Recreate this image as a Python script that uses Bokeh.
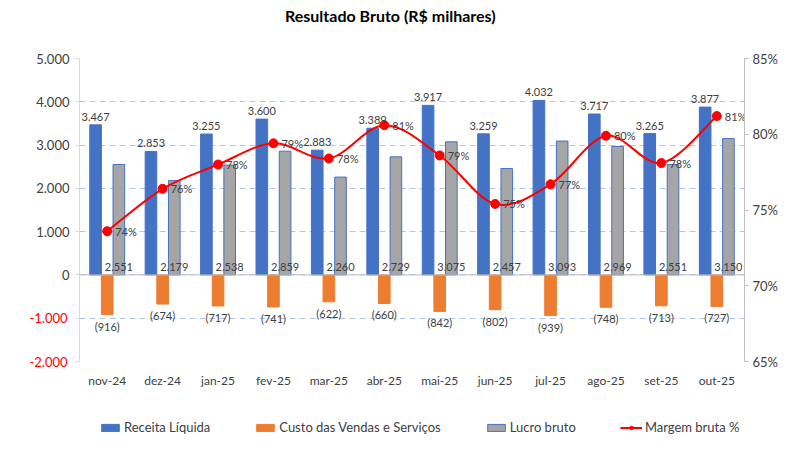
from bokeh.plotting import figure
from bokeh.layouts import column
from bokeh.models import (ColumnDataSource, Range1d, LinearAxis, FixedTicker,
                          Legend, LegendItem, Span, FactorRange, Div)
from bokeh.transform import dodge
from bokeh.core.properties import value
from bokeh.embed import file_html
from bokeh.resources import INLINE

title_text = "Resultado Bruto (R$ milhares)"
months = ["nov-24", "dez-24", "jan-25", "fev-25", "mar-25", "abr-25",
          "mai-25", "jun-25", "jul-25", "ago-25", "set-25", "out-25"]
receita = [3467, 2853, 3255, 3600, 2883, 3389, 3917, 3259, 4032, 3717, 3265, 3877]
custo = [-916, -674, -717, -741, -622, -660, -842, -802, -939, -748, -713, -727]
lucro = [2551, 2179, 2538, 2859, 2260, 2729, 3075, 2457, 3093, 2969, 2551, 3150]
margem = [0.736, 0.764, 0.780, 0.794, 0.784, 0.806, 0.786, 0.754, 0.767, 0.799, 0.781, 0.812]
left_ticks = [-2000, -1000, 0, 1000, 2000, 3000, 4000, 5000]
right_ticks = [0.65, 0.70, 0.75, 0.80, 0.85]
series_names = ["Receita Líquida", "Custo das Vendas e Serviços", "Lucro bruto", "Margem bruta %"]

FONT = "Lato"
TXT = "#404040"
C_REC, C_CUS, C_LUC, C_MAR = "#4472C4", "#ED7D31", "#A5A5A5", "#FF0000"


def thousands(v):
    return f"{v:,}".replace(",", ".")


src = ColumnDataSource(dict(
    month=months, receita=receita, custo=custo, lucro=lucro, margem=margem,
    xc=[i + 0.5 for i in range(len(months))],
    rlab=[thousands(v) for v in receita],
    clab=[f"({abs(v)})" for v in custo],
    llab=[thousands(v) for v in lucro],
    mlab=[f"{int(v * 100 + 0.5)}%" for v in margem],
    zero=[0] * len(months),
))

# title as a text block above the chart
head = Div(text=title_text, width=780, height=30, margin=0,
           styles={"font-family": FONT, "font-size": "16px", "font-weight": "bold",
                   "color": "#000000", "line-height": "32px", "text-indent": "285px",
                   "white-space": "nowrap"})

p = figure(width=780, height=375, x_range=FactorRange(*months, range_padding=0),
           y_range=Range1d(left_ticks[0], left_ticks[-1]),
           output_backend="svg", toolbar_location=None,
           min_border_left=79, min_border_right=28, min_border_top=28, min_border_bottom=44)
p.outline_line_color = None
p.title.visible = False
p.extra_y_ranges = {"pct": Range1d(right_ticks[0], right_ticks[-1])}

# grid
p.xgrid.visible = False
p.ygrid.ticker = FixedTicker(ticks=left_ticks)
p.ygrid.grid_line_color = "#B4C6E7"
p.ygrid.grid_line_dash = "6 4"

# left axis: line, ticks and the non-negative labels (dark)
ya = p.yaxis[0]
ya.ticker = FixedTicker(ticks=left_ticks)
ya.major_label_overrides = {t: (thousands(t) if t >= 0 else "") for t in left_ticks}
ya.axis_line_color = "#D9D9D9"
ya.major_tick_line_color = "#D9D9D9"
ya.major_tick_out = 4
ya.major_tick_in = 0
ya.minor_tick_line_color = None
ya.major_label_text_font = FONT
ya.major_label_text_font_size = "13px"
ya.major_label_text_color = TXT
ya.major_label_standoff = 6

# second left axis carrying only the negative labels (red), pulled onto the first one
neg_ticks = [t for t in left_ticks if t < 0]
yn = LinearAxis(ticker=FixedTicker(ticks=neg_ticks))
yn.major_label_overrides = {t: thousands(t) for t in neg_ticks}
yn.axis_line_color = None
yn.major_tick_line_color = None
yn.minor_tick_line_color = None
yn.major_tick_out = 0
yn.major_tick_in = 0
yn.major_label_text_font = FONT
yn.major_label_text_font_size = "13px"
yn.major_label_text_color = "#FF0000"
yn.major_label_standoff = -34
p.add_layout(yn, "left")

# right axis
ra = LinearAxis(y_range_name="pct", ticker=FixedTicker(ticks=right_ticks))
ra.major_label_overrides = {t: f"{round(t * 100)}%" for t in right_ticks}
ra.axis_line_color = "#BFBFBF"
ra.major_tick_line_color = "#BFBFBF"
ra.major_tick_out = 4
ra.major_tick_in = 0
ra.minor_tick_line_color = None
ra.major_label_text_font = FONT
ra.major_label_text_font_size = "13px"
ra.major_label_text_color = TXT
ra.major_label_standoff = 4
p.add_layout(ra, "right")

# x axis
xa = p.xaxis[0]
xa.axis_line_color = None
xa.major_tick_line_color = None
xa.major_tick_out = 0
xa.major_tick_in = 0
xa.major_label_text_font = FONT
xa.major_label_text_font_size = "12px"
xa.major_label_text_color = TXT
xa.major_label_standoff = 11

p.add_layout(Span(location=0, dimension="width", line_color="#BFBFBF", line_width=1))

W = 0.21
p.vbar(x=dodge("month", -W, range=p.x_range), top="receita", width=W, source=src,
       fill_color=C_REC, line_color=C_REC)
p.vbar(x=dodge("month", 0, range=p.x_range), top="custo", width=W, source=src,
       fill_color=C_CUS, line_color=C_CUS)
p.vbar(x=dodge("month", W, range=p.x_range), top="lucro", width=W, source=src,
       fill_color=C_LUC, line_color=C_REC, line_width=1)

# smoothed margin line (Catmull-Rom segments drawn as Bezier curves)
n = len(margem)
xs = src.data["xc"]
bz = dict(x0=[], y0=[], x1=[], y1=[], cx0=[], cy0=[], cx1=[], cy1=[])
for i in range(n - 1):
    im1 = max(i - 1, 0)
    ip2 = min(i + 2, n - 1)
    bz["x0"].append(xs[i]); bz["y0"].append(margem[i])
    bz["x1"].append(xs[i + 1]); bz["y1"].append(margem[i + 1])
    bz["cx0"].append(xs[i] + (xs[i + 1] - xs[im1]) / 6)
    bz["cy0"].append(margem[i] + (margem[i + 1] - margem[im1]) / 6)
    bz["cx1"].append(xs[i + 1] - (xs[ip2] - xs[i]) / 6)
    bz["cy1"].append(margem[i + 1] - (margem[ip2] - margem[i]) / 6)
p.bezier(source=ColumnDataSource(bz), x0="x0", y0="y0", x1="x1", y1="y1",
         cx0="cx0", cy0="cy0", cx1="cx1", cy1="cy1",
         line_color=C_MAR, line_width=2, y_range_name="pct")
p.scatter(x="xc", y="margem", source=src, size=9, fill_color=C_MAR,
          line_color=C_MAR, y_range_name="pct")

# data labels
lab = dict(text_font=value(FONT), text_font_size="11px", text_color=TXT)
p.text(x=dodge("month", -W, range=p.x_range), y="receita", text="rlab", source=src,
       text_align="center", text_baseline="bottom", y_offset=-4, **lab)
p.text(x=dodge("month", W, range=p.x_range), y="zero", text="llab", source=src,
       text_align="center", text_baseline="bottom", y_offset=-4, **lab)
p.text(x=dodge("month", 0, range=p.x_range), y="custo", text="clab", source=src,
       text_align="center", text_baseline="top", y_offset=5, **lab)
p.text(x="xc", y="margem", text="mlab", source=src, y_range_name="pct",
       text_align="left", text_baseline="middle", x_offset=8, **lab)

# legend strip below the chart (its sample glyphs sit outside the strip's visible range)
lg = figure(width=780, height=40, x_range=Range1d(0, 1), y_range=Range1d(0, 1),
            x_axis_type=None, y_axis_type=None,
            output_backend="svg", toolbar_location=None,
            min_border_left=0, min_border_right=0, min_border_top=0, min_border_bottom=0)
lg.grid.visible = False
lg.outline_line_color = None
off = ColumnDataSource(dict(x=[-5.0], y=[-5.0]))
g1 = lg.vbar(x="x", top="y", width=0.1, source=off, fill_color=C_REC, line_color=C_REC)
g2 = lg.vbar(x="x", top="y", width=0.1, source=off, fill_color=C_CUS, line_color=C_CUS)
g3 = lg.vbar(x="x", top="y", width=0.1, source=off, fill_color=C_LUC, line_color=C_REC)
g4 = lg.line(x="x", y="y", source=off, line_color=C_MAR, line_width=2)
g5 = lg.scatter(x="x", y="y", source=off, size=6, fill_color=C_MAR, line_color=C_MAR)
legend = Legend(items=[
    LegendItem(label=series_names[0], renderers=[g1]),
    LegendItem(label=series_names[1], renderers=[g2]),
    LegendItem(label=series_names[2], renderers=[g3]),
    LegendItem(label=series_names[3], renderers=[g4, g5]),
], orientation="horizontal", location=(20, 10), border_line_color=None,
    background_fill_alpha=0, label_text_font=FONT, label_text_font_size="13px",
    label_text_color=TXT, glyph_width=22, glyph_height=9, label_standoff=3,
    spacing=44, padding=0, margin=0)
lg.add_layout(legend, "center")

layout = column(head, p, lg, spacing=0)
open("out.html", "w").write(file_html(layout, INLINE))
